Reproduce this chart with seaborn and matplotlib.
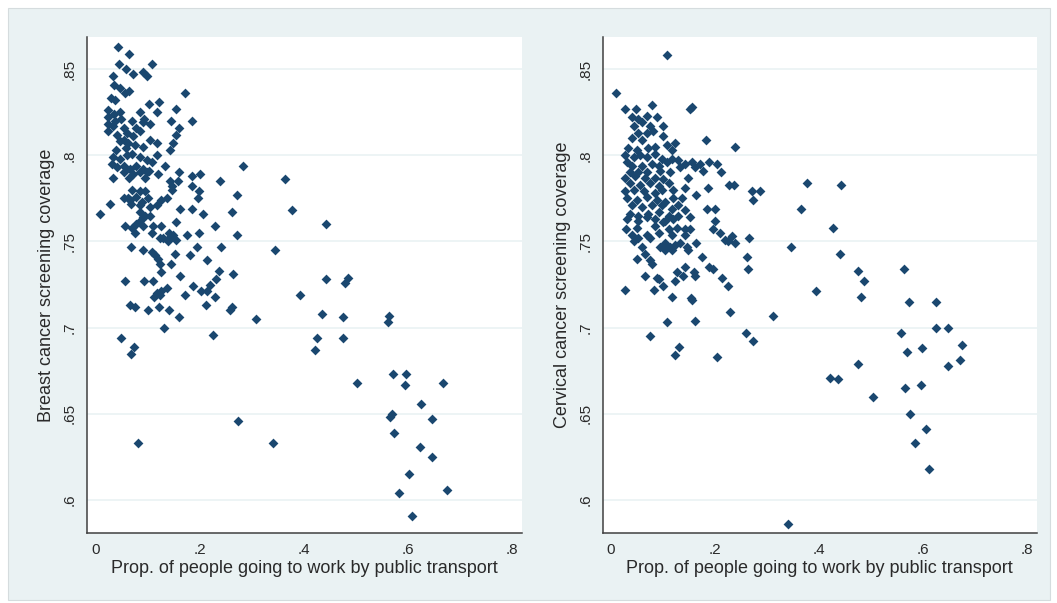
import pandas as pd
import seaborn as sns
import matplotlib.pyplot as plt
from matplotlib.patches import Rectangle

# values (x = prop. public transport, y = coverage)
breast_x = [
    0.043, 0.064, 0.045, 0.107, 0.057, 0.071, 0.090, 0.099, 0.032, 0.035,
    0.046, 0.064, 0.056, 0.171, 0.028, 0.037, 0.121, 0.103, 0.154, 0.024,
    0.035, 0.046, 0.085, 0.117, 0.144, 0.185, 0.024, 0.037, 0.049, 0.069,
    0.093, 0.024, 0.032, 0.053, 0.078, 0.091, 0.104, 0.159, 0.154, 0.024,
    0.040, 0.059, 0.071, 0.085, 0.104, 0.117, 0.148, 0.143, 0.046, 0.053,
    0.062, 0.075, 0.091, 0.058, 0.039, 0.117, 0.033, 0.046, 0.059, 0.069,
    0.085, 0.098, 0.107, 0.133, 0.030, 0.040, 0.053, 0.065, 0.078, 0.091,
    0.103, 0.053, 0.072, 0.085, 0.098, 0.032, 0.064, 0.094, 0.120, 0.143,
    0.160, 0.184, 0.200, 0.158, 0.146, 0.238, 0.199, 0.284, 0.364,
    0.069, 0.085, 0.094, 0.146, 0.184, 0.053, 0.065, 0.078, 0.101, 0.126,
    0.136, 0.197, 0.027, 0.067, 0.085, 0.104, 0.117, 0.162, 0.184, 0.207,
    0.008, 0.085, 0.091, 0.104, 0.085, 0.078, 0.056, 0.069, 0.091, 0.110,
    0.125, 0.154, 0.229, 0.075, 0.107, 0.123, 0.130, 0.141, 0.141, 0.149,
    0.175, 0.199, 0.139, 0.154, 0.067, 0.090, 0.107, 0.114, 0.120, 0.123,
    0.152, 0.181, 0.195, 0.213, 0.125, 0.144, 0.162, 0.056, 0.093, 0.110,
    0.232, 0.219, 0.187, 0.136, 0.117, 0.123, 0.112, 0.126, 0.203, 0.213,
    0.065, 0.075, 0.101, 0.122, 0.141, 0.159, 0.131, 0.049, 0.225, 0.211,
    0.229, 0.172, 0.061, 0.088, 0.095,
    0.271, 0.261, 0.271, 0.263, 0.240, 0.259, 0.262, 0.237, 0.377, 0.442,
    0.344, 0.393, 0.442, 0.485, 0.480, 0.436, 0.475, 0.475, 0.426, 0.422,
    0.502, 0.308, 0.340, 0.273, 0.080, 0.563, 0.565, 0.572, 0.597, 0.594,
    0.669, 0.625, 0.569, 0.567, 0.647, 0.574, 0.624, 0.647, 0.602, 0.583,
    0.675, 0.609, 0.074, 0.068,
]
breast_y = [
    0.863, 0.859, 0.853, 0.853, 0.850, 0.847, 0.848, 0.846, 0.846, 0.841,
    0.839, 0.837, 0.836, 0.836, 0.833, 0.832, 0.831, 0.830, 0.827, 0.826,
    0.824, 0.825, 0.825, 0.825, 0.820, 0.820, 0.822, 0.820, 0.821, 0.820,
    0.821, 0.818, 0.817, 0.816, 0.816, 0.819, 0.818, 0.816, 0.812, 0.814,
    0.812, 0.813, 0.811, 0.814, 0.809, 0.807, 0.807, 0.803, 0.808, 0.809,
    0.807, 0.806, 0.805, 0.804, 0.803, 0.800, 0.799, 0.798, 0.800, 0.801,
    0.799, 0.797, 0.796, 0.794, 0.795, 0.793, 0.794, 0.792, 0.794, 0.792,
    0.791, 0.790, 0.789, 0.790, 0.790, 0.787, 0.787, 0.787, 0.789, 0.785,
    0.790, 0.788, 0.789, 0.785, 0.782, 0.785, 0.779, 0.794, 0.786,
    0.780, 0.779, 0.779, 0.780, 0.782, 0.775, 0.774, 0.776, 0.775, 0.774,
    0.775, 0.775, 0.772, 0.772, 0.771, 0.770, 0.771, 0.769, 0.769, 0.766,
    0.766, 0.767, 0.764, 0.765, 0.762, 0.760, 0.759, 0.758, 0.759, 0.759,
    0.759, 0.761, 0.759, 0.755, 0.755, 0.752, 0.752, 0.755, 0.752, 0.754,
    0.754, 0.755, 0.750, 0.751, 0.747, 0.745, 0.744, 0.742, 0.740, 0.737,
    0.743, 0.742, 0.747, 0.739, 0.732, 0.737, 0.730, 0.727, 0.727, 0.727,
    0.728, 0.725, 0.724, 0.723, 0.720, 0.719, 0.718, 0.721, 0.721, 0.721,
    0.713, 0.712, 0.710, 0.712, 0.710, 0.706, 0.700, 0.694, 0.696, 0.713,
    0.718, 0.719, 0.775, 0.773, 0.765,
    0.777, 0.767, 0.754, 0.731, 0.747, 0.710, 0.712, 0.733, 0.768, 0.760,
    0.745, 0.719, 0.728, 0.729, 0.726, 0.708, 0.706, 0.694, 0.694, 0.687,
    0.668, 0.705, 0.633, 0.646, 0.633, 0.703, 0.707, 0.673, 0.673, 0.667,
    0.668, 0.656, 0.650, 0.648, 0.647, 0.639, 0.631, 0.625, 0.615, 0.604,
    0.606, 0.591, 0.689, 0.685,
]

cervical_x = [
    0.010, 0.028, 0.048, 0.080, 0.152, 0.157, 0.040, 0.053, 0.069, 0.088,
    0.101, 0.044, 0.060, 0.076, 0.053, 0.069, 0.082, 0.040, 0.060, 0.101,
    0.182, 0.123, 0.108, 0.239, 0.034, 0.050, 0.072, 0.085, 0.117, 0.028,
    0.044, 0.056, 0.069, 0.085, 0.098, 0.117, 0.129, 0.143, 0.157, 0.172,
    0.189, 0.204, 0.031, 0.040, 0.060, 0.079, 0.092, 0.108, 0.133, 0.162,
    0.178, 0.212, 0.037, 0.053, 0.069, 0.095, 0.114, 0.028, 0.047, 0.066,
    0.085, 0.101, 0.149, 0.037, 0.056, 0.076, 0.092, 0.111, 0.143, 0.187,
    0.227, 0.236, 0.028, 0.044, 0.063, 0.085, 0.098, 0.120, 0.163, 0.031,
    0.050, 0.069, 0.088, 0.104, 0.120, 0.136, 0.040, 0.060, 0.079, 0.098,
    0.117, 0.130, 0.143, 0.184, 0.200, 0.037, 0.053, 0.072, 0.092, 0.111,
    0.130,
    0.031, 0.053, 0.069, 0.085, 0.104, 0.120, 0.152, 0.200, 0.029, 0.050,
    0.085, 0.101, 0.111, 0.127, 0.143, 0.152, 0.197, 0.040, 0.069, 0.092,
    0.117, 0.143, 0.210, 0.232, 0.220, 0.053, 0.076, 0.239, 0.226, 0.104,
    0.114, 0.123, 0.133, 0.095, 0.104, 0.117, 0.044, 0.060, 0.066, 0.146,
    0.149, 0.163, 0.050, 0.076, 0.079, 0.175, 0.143, 0.189, 0.197, 0.065,
    0.088, 0.092, 0.127, 0.123, 0.139, 0.159, 0.162, 0.213, 0.028, 0.084,
    0.101, 0.117, 0.154, 0.156, 0.226, 0.229, 0.109, 0.161, 0.076,
    0.109, 0.271, 0.286, 0.273, 0.265, 0.261, 0.264, 0.311, 0.259, 0.274,
    0.204, 0.124, 0.132, 0.377, 0.443, 0.365, 0.346, 0.427, 0.440, 0.475,
    0.486, 0.480, 0.394, 0.564, 0.573, 0.625, 0.625, 0.648, 0.558, 0.569,
    0.597, 0.675, 0.670, 0.648, 0.475, 0.422, 0.436, 0.503, 0.566, 0.595,
    0.575, 0.605, 0.585, 0.612, 0.340,
]
cervical_y = [
    0.836, 0.827, 0.827, 0.829, 0.827, 0.828, 0.822, 0.821, 0.823, 0.822,
    0.817, 0.817, 0.819, 0.817, 0.813, 0.813, 0.814, 0.810, 0.809, 0.811,
    0.809, 0.807, 0.806, 0.805, 0.804, 0.803, 0.804, 0.805, 0.803, 0.800,
    0.799, 0.800, 0.799, 0.801, 0.798, 0.798, 0.797, 0.795, 0.796, 0.795,
    0.796, 0.795, 0.796, 0.794, 0.794, 0.795, 0.794, 0.796, 0.793, 0.793,
    0.791, 0.790, 0.790, 0.790, 0.790, 0.791, 0.790, 0.787, 0.788, 0.787,
    0.787, 0.786, 0.787, 0.784, 0.783, 0.784, 0.782, 0.784, 0.781, 0.781,
    0.783, 0.783, 0.779, 0.780, 0.779, 0.778, 0.780, 0.780, 0.777, 0.775,
    0.774, 0.776, 0.774, 0.773, 0.775, 0.775, 0.771, 0.770, 0.771, 0.771,
    0.769, 0.771, 0.768, 0.769, 0.769, 0.766, 0.765, 0.766, 0.767, 0.765,
    0.765,
    0.763, 0.762, 0.764, 0.763, 0.762, 0.763, 0.764, 0.762, 0.757, 0.758,
    0.759, 0.761, 0.757, 0.758, 0.757, 0.757, 0.757, 0.754, 0.754, 0.755,
    0.754, 0.754, 0.755, 0.753, 0.751, 0.752, 0.752, 0.749, 0.750, 0.749,
    0.747, 0.748, 0.749, 0.747, 0.745, 0.745, 0.750, 0.747, 0.743, 0.747,
    0.745, 0.749, 0.740, 0.739, 0.737, 0.741, 0.735, 0.735, 0.734, 0.730,
    0.729, 0.728, 0.732, 0.727, 0.730, 0.732, 0.730, 0.729, 0.722, 0.722,
    0.724, 0.718, 0.717, 0.716, 0.724, 0.709, 0.703, 0.704, 0.695,
    0.858, 0.779, 0.779, 0.774, 0.752, 0.741, 0.734, 0.707, 0.697, 0.692,
    0.683, 0.684, 0.689, 0.784, 0.783, 0.769, 0.747, 0.758, 0.743, 0.733,
    0.727, 0.718, 0.721, 0.734, 0.715, 0.715, 0.700, 0.700, 0.697, 0.686,
    0.688, 0.690, 0.681, 0.678, 0.679, 0.671, 0.670, 0.660, 0.665, 0.667,
    0.650, 0.641, 0.633, 0.618, 0.586,
]

x_ticks = [0, 0.2, 0.4, 0.6, 0.8]
x_tick_labels = ['0', '.2', '.4', '.6', '.8']
y_ticks = [0.6, 0.65, 0.7, 0.75, 0.8, 0.85]
y_tick_labels = ['.6', '.65', '.7', '.75', '.8', '.85']

x_title = 'Prop. of people going to work by public transport'
y_titles = ['Breast cancer screening coverage', 'Cervical cancer screening coverage']

navy = '#1a476f'
bluish_gray = '#eaf2f3'
text_col = '#2a2a2a'

sns.set_style('white')
plt.rcParams['font.family'] = ['Liberation Sans', 'DejaVu Sans']

fig = plt.figure(figsize=(10.57, 6.03), dpi=100)
fig.patches.append(Rectangle((8 / 1057, 3 / 603), 1042 / 1057, 592 / 603,
                             transform=fig.transFigure, facecolor=bluish_gray,
                             edgecolor='#d5dcde', lw=0.8, zorder=-5))

ax1 = fig.add_axes([0.0820, 0.1161, 0.4115, 0.8226])
ax2 = fig.add_axes([0.5702, 0.1161, 0.4106, 0.8226])

panels = [
    (ax1, breast_x, breast_y, y_titles[0], (-0.0179, 0.8195)),
    (ax2, cervical_x, cervical_y, y_titles[1], (-0.0154, 0.818)),
]

for ax, xs, ys, ytitle, xlim in panels:
    df = pd.DataFrame({'x': xs, 'y': ys})
    ax.set_facecolor('white')
    sns.scatterplot(data=df, x='x', y='y', ax=ax, marker='D', color=navy,
                    s=25, linewidth=0, zorder=3)
    ax.set_xlim(*xlim)
    ax.set_ylim(0.5809, 0.8686)
    ax.set_xticks(x_ticks)
    ax.set_xticklabels(x_tick_labels)
    ax.set_yticks(y_ticks)
    ax.set_yticklabels(y_tick_labels, rotation=90, va='center')
    ax.grid(axis='y', color=bluish_gray, linewidth=1.2, zorder=0)
    ax.grid(axis='x', visible=False)
    for side in ['top', 'right']:
        ax.spines[side].set_visible(False)
    for side in ['left', 'bottom']:
        ax.spines[side].set_color('#404040')
        ax.spines[side].set_linewidth(1.1)
    ax.tick_params(axis='both', direction='out', length=4, width=1,
                   color='#404040', labelcolor=text_col, labelsize=11, pad=3)
    ax.set_xlabel(x_title, fontsize=13, color=text_col)
    ax.set_ylabel(ytitle, fontsize=13, color=text_col)
    ax.xaxis.label.set_va('center')
    ax.yaxis.label.set_va('center')
    ax.xaxis.set_label_coords(0.5, -0.0706)

ax1.yaxis.set_label_coords(-0.0913, 0.5)
ax2.yaxis.set_label_coords(-0.0926, 0.5)

fig.savefig('out.png', dpi=100, facecolor='white')
